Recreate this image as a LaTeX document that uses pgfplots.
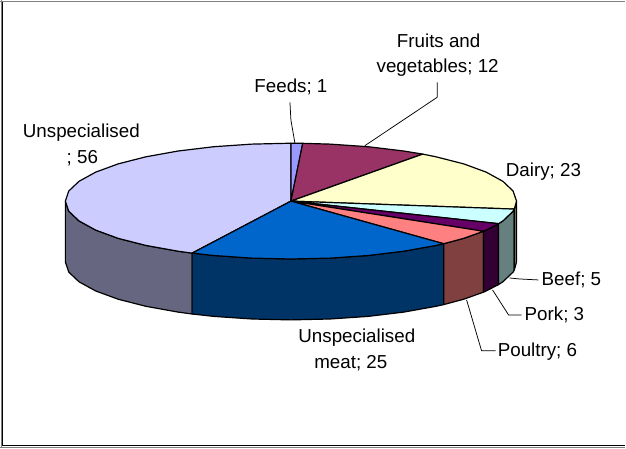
\documentclass[border=0pt]{standalone}
\usepackage{fontspec}
\setmainfont{Liberation Sans}
\usepackage{pgfplots}
\pgfplotsset{compat=1.18}
\definecolor{cUn}{HTML}{CCCCFF}\definecolor{cUnS}{HTML}{666680}
\definecolor{cFeed}{HTML}{9999FF}
\definecolor{cFruit}{HTML}{993366}
\definecolor{cDairy}{HTML}{FFFFCC}\definecolor{cDairyS}{HTML}{808066}
\definecolor{cBeef}{HTML}{CCFFFF}\definecolor{cBeefS}{HTML}{668080}
\definecolor{cPork}{HTML}{660066}\definecolor{cPorkS}{HTML}{330033}
\definecolor{cPoul}{HTML}{FF8080}\definecolor{cPoulS}{HTML}{804040}
\definecolor{cMeat}{HTML}{0066CC}\definecolor{cMeatS}{HTML}{003366}
\tikzset{
  slice/.style={draw=black, line width=1.2pt},
  leader/.style={draw=black, line width=0.75pt},
  lab/.style={font=\fontsize{18.8}{22}\selectfont, text=black, inner sep=0pt, anchor=center},
}
\begin{document}
\begin{tikzpicture}
\begin{axis}[
  scale only axis, width=626pt, height=448pt,
  xmin=0, xmax=626, ymin=0, ymax=448, y dir=reverse,
  hide axis, clip=false,
  every axis plot/.append style={no markers, line join=round},
]
% frame
\addplot[draw=gray, line width=1pt] coordinates {(0,0.6)(626,0.6)};
\addplot[draw=gray, line width=1pt] coordinates {(0.6,0)(0.6,448)};
\addplot[draw=black, line width=1pt] coordinates {(2.2,1.5)(2.2,446)};
\addplot[draw=gray, line width=1pt] coordinates {(0,447.4)(626,447.4)};
\addplot[draw=black, line width=1.4pt] coordinates {(2,446)(626,446)};
% side walls
\addplot[slice, fill=cUnS] coordinates {(65,201)(68.4,211.1)(78.6,220.8)(95.3,230)(117.9,238.3)(145.7,245.4)(178,251.2)(192,253.1)(192,314.1)(178,312.2)(145.7,306.4)(117.9,299.3)(95.3,291)(78.6,281.8)(68.4,272.1)(65,262)} --cycle;
\addplot[slice, fill=cMeatS] coordinates {(192,253.1)(213.7,255.5)(251.8,258.1)(291,259)(330.2,258.1)(368.3,255.5)(404,251.2)(436.3,245.4)(444,243.7)(444,304.7)(436.3,306.4)(404,312.2)(368.3,316.5)(330.2,319.1)(291,320)(251.8,319.1)(213.7,316.5)(192,314.1)} --cycle;
\addplot[slice, fill=cPoulS] coordinates {(444,243.7)(464.1,238.3)(484,231.2)(484,292.2)(464.1,299.3)(444,304.7)} --cycle;
\addplot[slice, fill=cPorkS] coordinates {(484,231.2)(486.7,230)(499,223.6)(499,284.6)(486.7,291)(484,292.2)} --cycle;
\addplot[slice, fill=cBeefS] coordinates {(499,223.6)(503.4,220.8)(513.6,211.1)(514.8,209)(514.8,270)(513.6,272.1)(503.4,281.8)(499,284.6)} --cycle;
\addplot[slice, fill=cDairyS] coordinates {(514.8,209)(517,201)(517,262)(514.8,270)} --cycle;
% top faces
\addplot[slice, fill=cUn] coordinates {(291,201)(192,253.1)(178,251.2)(145.7,245.4)(117.9,238.3)(95.3,230)(78.6,220.8)(68.4,211.1)(65,201)(68.4,190.9)(78.6,181.2)(95.3,172)(117.9,163.7)(145.7,156.6)(178,150.8)(213.7,146.5)(251.8,143.9)(291,143)} --cycle;
\addplot[slice, fill=cFeed] coordinates {(291,201)(291,143)(302.8,143.1)} --cycle;
\addplot[slice, fill=cFruit] coordinates {(291,201)(302.8,143.1)(330.2,143.9)(368.3,146.5)(404,150.8)(423,153.9)} --cycle;
\addplot[slice, fill=cDairy] coordinates {(291,201)(423,153.9)(436.3,156.6)(464.1,163.7)(486.7,172)(503.4,181.2)(513.6,190.9)(517,201)(514.8,209)} --cycle;
\addplot[slice, fill=cBeef] coordinates {(291,201)(514.8,209)(513.6,211.1)(503.4,220.8)(499,223.6)} --cycle;
\addplot[slice, fill=cPork] coordinates {(291,201)(499,223.6)(486.7,230)(484,231.2)} --cycle;
\addplot[slice, fill=cPoul] coordinates {(291,201)(484,231.2)(464.1,238.3)(444,243.7)} --cycle;
\addplot[slice, fill=cMeat] coordinates {(291,201)(444,243.7)(436.3,245.4)(404,251.2)(368.3,255.5)(330.2,258.1)(291,259)(251.8,258.1)(213.7,255.5)(192,253.1)} --cycle;
% leader lines
\addplot[leader] coordinates {(290,102)(291,120)(295,143)};
\addplot[leader] coordinates {(437.5,82)(437.5,97)(365,145.5)};
\addplot[leader] coordinates {(510,278)(520,279)(539,280)};
\addplot[leader] coordinates {(493,290)(509,315)(522,315)};
\addplot[leader] coordinates {(467,300)(482,351)(496,351)};
% labels
\node[lab] at (axis cs:439,40) {Fruits and};
\node[lab] at (axis cs:438,67) {vegetables; 12};
\node[lab] at (axis cs:291,87) {Feeds; 1};
\node[lab] at (axis cs:81,132) {Unspecialised};
\node[lab] at (axis cs:82,158) {; 56};
\node[lab] at (axis cs:544,171) {Dairy; 23};
\node[lab] at (axis cs:572,280) {Beef; 5};
\node[lab] at (axis cs:555,315) {Pork; 3};
\node[lab] at (axis cs:538,352) {Poultry; 6};
\node[lab] at (axis cs:357,338) {Unspecialised};
\node[lab] at (axis cs:351,363) {meat; 25};
\end{axis}
\end{tikzpicture}
\end{document}
